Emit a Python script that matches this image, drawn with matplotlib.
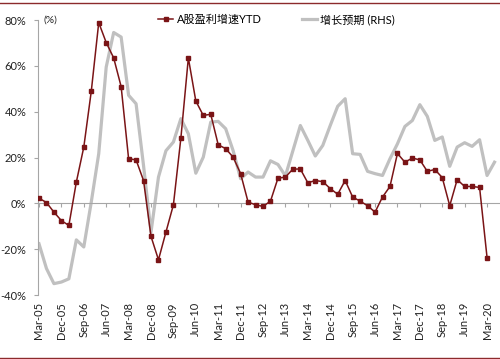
import matplotlib
matplotlib.use('Agg')
import matplotlib.pyplot as plt
from matplotlib.lines import Line2D
import numpy as np

plt.rcParams['font.family'] = ['Lato', 'Noto Sans CJK SC', 'DejaVu Sans']

# quarterly data, Mar-05 .. Mar-20 (red), gray runs one quarter further
earnings_ytd = [2.3, 0.4, -3.8, -7.5, -9.6, 9.3, 24.6, 48.9, 78.9, 70.2,
                63.5, 51.0, 19.5, 19.0, 10.0, -14.4, -24.6, -12.5, -0.6, 28.5,
                63.5, 44.7, 38.4, 38.9, 25.6, 23.9, 20.2, 13.0, 0.6, -0.6,
                -1.3, 1.0, 11.0, 11.5, 15.0, 15.0, 9.0, 10.0, 9.5, 6.5,
                4.0, 10.0, 2.8, 1.0, -1.0, -3.8, 2.8, 7.4, 21.8, 18.0,
                19.8, 19.0, 14.0, 14.8, 11.3, -1.0, 10.4, 7.4, 7.4, 7.0,
                -23.6]
growth_exp = [-17.6, -28.4, -35.0, -34.3, -32.9, -15.9, -19.0, 0.6, 21.7, 59.5,
              74.6, 72.6, 47.2, 43.5, 16.5, -12.5, 11.5, 23.0, 26.8, 37.0,
              30.4, 13.2, 20.2, 35.5, 35.8, 32.6, 23.0, 10.8, 13.7, 11.5,
              11.5, 18.6, 17.0, 12.0, 23.0, 34.0, 27.5, 20.7, 25.3, 34.0,
              42.4, 45.7, 21.7, 21.4, 14.0, 13.0, 12.2, 19.5, 26.0, 33.6,
              36.2, 43.1, 38.0, 27.5, 29.0, 16.2, 24.6, 26.5, 24.9, 27.8,
              12.2, 18.0]
tick_labels = ['Mar-05', 'Dec-05', 'Sep-06', 'Jun-07', 'Mar-08', 'Dec-08', 'Sep-09',
               'Jun-10', 'Mar-11', 'Dec-11', 'Sep-12', 'Jun-13', 'Mar-14', 'Dec-14',
               'Sep-15', 'Jun-16', 'Mar-17', 'Dec-17', 'Sep-18', 'Jun-19', 'Mar-20']

red = '#7a1416'
gray = '#c0c0c0'
axis_gray = '#a6a6a6'

fig = plt.figure(figsize=(5.0, 3.59), dpi=100)
ax = fig.add_axes([0.075, 0.178, 0.923, 0.766])

ax.plot(np.arange(len(growth_exp)), growth_exp, color=gray, lw=2.3,
        label='增长预期 (RHS)', zorder=2)
ax.plot(np.arange(len(earnings_ytd)), earnings_ytd, color=red, lw=1.1,
        marker='s', ms=3, label='A股盈利增速YTD', zorder=3)

ax.set_xlim(-0.2, 61.6)
ax.set_ylim(-40, 80)
ax.set_yticks(np.arange(-40, 81, 20))
ax.set_yticklabels([f'{v}%' for v in range(-40, 81, 20)])

for s in ['top', 'right']:
    ax.spines[s].set_visible(False)
ax.spines['left'].set_color(axis_gray)
ax.spines['left'].set_linewidth(0.8)
ax.spines['bottom'].set_position(('data', 0))
ax.spines['bottom'].set_color(axis_gray)
ax.spines['bottom'].set_linewidth(0.8)

ticks = np.arange(0, 61, 3)
ax.set_xticks(ticks)
ax.tick_params(axis='x', labelbottom=False, length=3, color=axis_gray, width=0.8)
ax.tick_params(axis='y', length=3, color=axis_gray, width=0.8, labelsize=8,
               pad=5, labelcolor='#222222')

sec = ax.secondary_xaxis('bottom')
sec.set_xticks(ticks)
sec.set_xticklabels(tick_labels, rotation=90, fontsize=8, color='#222222')
sec.tick_params(length=0, pad=5)
sec.spines['bottom'].set_visible(False)

ax.text(0.012, 80, '(%)', transform=ax.get_yaxis_transform(), fontsize=7.5,
        va='center', ha='left', color='#222222')

handles, labels = ax.get_legend_handles_labels()
fig.legend(handles[::-1], labels[::-1], loc='center', bbox_to_anchor=(0.553, 0.945),
           ncol=2, frameon=False, fontsize=8, columnspacing=3.6, handlelength=1.4,
           handletextpad=0.3)

# thin border lines top and bottom
fig.add_artist(Line2D([0, 1], [0.992, 0.992], color='#8c2a2c', lw=1.0))
fig.add_artist(Line2D([0, 1], [0.004, 0.004], color='#8c2a2c', lw=1.0))

fig.savefig('out.png', dpi=100)
